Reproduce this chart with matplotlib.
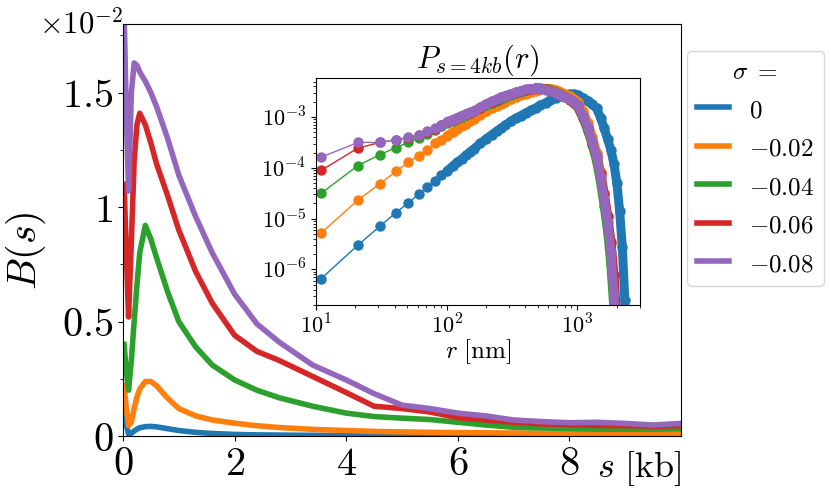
import numpy as np
import matplotlib
matplotlib.use('Agg')
import matplotlib.pyplot as plt
from matplotlib.ticker import MultipleLocator, NullFormatter

plt.rcParams['mathtext.fontset'] = 'cm'
plt.rcParams['font.family'] = 'serif'
plt.rcParams['font.serif'] = ['DejaVu Serif']

# main panel: B(s), values in units of 1e-2
s_kb = [0.02, 0.06, 0.1, 0.15, 0.2, 0.25, 0.3, 0.4, 0.5, 0.6, 0.8, 1.0, 1.3, 1.6, 2.0, 2.4,
        2.8, 3.4, 4.0, 4.5, 5.0, 5.5, 6.0, 6.5, 7.0, 7.5, 8.0, 8.5, 9.0, 9.5, 10.0]
B_0 = [0.12, 0.05, 0.008, 0.012, 0.022, 0.03, 0.036, 0.041, 0.042, 0.040, 0.032, 0.024, 0.016, 0.011,
       0.007, 0.005, 0.004, 0.003, 0.002, 0.002, 0.0015, 0.0015, 0.001, 0.001, 0.001, 0.001, 0.001,
       0.001, 0.001, 0.001, 0.001]
B_002 = [0.22, 0.12, 0.045, 0.06, 0.12, 0.17, 0.205, 0.238, 0.238, 0.22, 0.165, 0.12, 0.088, 0.07,
         0.056, 0.045, 0.037, 0.029, 0.024, 0.02, 0.018, 0.016, 0.015, 0.014, 0.013, 0.012, 0.012,
         0.011, 0.011, 0.01, 0.01]
B_004 = [0.40, 0.28, 0.20, 0.33, 0.50, 0.66, 0.80, 0.92, 0.86, 0.78, 0.63, 0.50, 0.39, 0.31, 0.245,
         0.20, 0.167, 0.13, 0.10, 0.085, 0.078, 0.072, 0.06, 0.048, 0.038, 0.035, 0.033, 0.03, 0.03,
         0.03, 0.032]
B_006 = [1.10, 0.80, 0.52, 0.85, 1.20, 1.36, 1.41, 1.36, 1.28, 1.19, 1.05, 0.90, 0.72, 0.58, 0.44,
         0.37, 0.33, 0.26, 0.19, 0.13, 0.12, 0.105, 0.08, 0.07, 0.06, 0.053, 0.05, 0.046, 0.045,
         0.043, 0.045]
B_008 = [1.85, 1.40, 1.07, 1.50, 1.63, 1.62, 1.59, 1.55, 1.50, 1.44, 1.30, 1.14, 0.96, 0.80, 0.62,
         0.49, 0.41, 0.31, 0.245, 0.185, 0.135, 0.12, 0.10, 0.088, 0.07, 0.063, 0.058, 0.06, 0.055,
         0.048, 0.055]

sigma_labels = ['$0$', '$-0.02$', '$-0.04$', '$-0.06$', '$-0.08$']

# inset: P(r) at s = 4 kb, log10 values
r_nm = [11, 21, 31, 41, 51, 61, 71, 81, 91, 101, 111, 121, 131, 141, 151, 161, 181, 201, 221, 241,
        261, 281, 311, 341, 371, 401, 441, 481, 521, 571, 621, 681, 741, 801, 871, 941, 1001, 1101,
        1201, 1301, 1401, 1501, 1601, 1701, 1801, 1901, 2001, 2101, 2201, 2301, 2401]
logP_0 = [-6.18, -5.52, -5.145, -4.88, -4.69, -4.52, -4.38, -4.26, -4.15, -4.06, -3.97, -3.89, -3.82,
          -3.75, -3.69, -3.63, -3.52, -3.43, -3.35, -3.28, -3.22, -3.16, -3.08, -3.02, -2.97, -2.92,
          -2.87, -2.82, -2.77, -2.72, -2.67, -2.62, -2.59, -2.56, -2.55, -2.55, -2.57, -2.62, -2.68,
          -2.75, -2.83, -3.01, -3.22, -3.44, -3.65, -3.92, -4.30, -4.85, -5.55, -6.60, -8.0]
logP_002 = [-5.28, -4.635, -4.31, -4.07, -3.89, -3.76, -3.64, -3.52, -3.445, -3.37, -3.30, -3.24,
            -3.18, -3.13, -3.08, -3.04, -2.96, -2.89, -2.83, -2.78, -2.74, -2.70, -2.65, -2.61,
            -2.57, -2.54, -2.51, -2.48, -2.455, -2.44, -2.44, -2.46, -2.50, -2.54, -2.59, -2.65,
            -2.71, -2.88, -3.12, -3.40, -3.70, -4.08, -4.50, -4.96, -5.50, -6.25, -7.2, -8.5, -9.0,
            -9.0, -9.0]
logP_004 = [-4.50, -3.955, -3.74, -3.60, -3.50, -3.41, -3.33, -3.25, -3.18, -3.12, -3.07, -3.03,
            -2.99, -2.95, -2.92, -2.89, -2.83, -2.77, -2.72, -2.68, -2.64, -2.61, -2.57, -2.53,
            -2.50, -2.475, -2.45, -2.43, -2.43, -2.44, -2.47, -2.51, -2.55, -2.60, -2.66, -2.73,
            -2.80, -3.02, -3.27, -3.56, -3.87, -4.28, -4.75, -5.25, -5.90, -6.80, -8.0, -9.0, -9.0,
            -9.0, -9.0]
logP_006 = [-4.05, -3.61, -3.50, -3.445, -3.41, -3.36, -3.29, -3.23, -3.16, -3.10, -3.06, -3.02,
            -2.98, -2.945, -2.915, -2.885, -2.825, -2.75, -2.70, -2.655, -2.615, -2.585, -2.55,
            -2.515, -2.485, -2.46, -2.44, -2.435, -2.44, -2.455, -2.485, -2.52, -2.56, -2.60,
            -2.655, -2.715, -2.78, -2.99, -3.22, -3.50, -3.79, -4.12, -4.52, -4.95, -5.45, -6.10,
            -7.0, -8.5, -9.0, -9.0, -9.0]
logP_008 = [-3.79, -3.50, -3.50, -3.445, -3.40, -3.35, -3.28, -3.22, -3.15, -3.09, -3.05, -3.01,
            -2.97, -2.94, -2.91, -2.88, -2.81, -2.74, -2.69, -2.65, -2.61, -2.58, -2.54, -2.51,
            -2.48, -2.455, -2.44, -2.435, -2.44, -2.46, -2.49, -2.52, -2.56, -2.60, -2.65, -2.71,
            -2.77, -2.97, -3.20, -3.48, -3.77, -4.18, -4.61, -5.06, -5.65, -6.50, -7.5, -9.0, -9.0,
            -9.0, -9.0]

fig = plt.figure(figsize=(8.31, 4.94), dpi=100)
ax = fig.add_axes([0.148, 0.1174, 0.6715, 0.834])

for vals, lab in zip([B_0, B_002, B_004, B_006, B_008], sigma_labels):
    ax.plot(s_kb, vals, lw=4, label=lab)

ax.set_xlim(0, 10)
ax.set_ylim(0, 1.8)
ax.set_xticks([0, 2, 4, 6, 8])
ax.set_xticklabels(['$0$', '$2$', '$4$', '$6$', '$8$'])
ax.set_yticks([0, 0.5, 1, 1.5])
ax.set_yticklabels(['$0$', '$0.5$', '$1$', '$1.5$'])
ax.yaxis.set_minor_locator(MultipleLocator(0.25))
ax.tick_params(labelsize=29)
ax.set_ylabel(r'$B(s)$', fontsize=29)
ax.yaxis.set_label_coords(-0.135, 0.45)
ax.text(1.0, -0.08, r'$s\ [\mathrm{kb}]$', transform=ax.transAxes, ha='right', va='center', fontsize=26)
ax.text(0.0, 0.978, r'$\times10^{-2}$', transform=ax.transAxes, ha='right', va='baseline', fontsize=22)

ax.legend(title=r'$\sigma\ =$', loc='upper left', bbox_to_anchor=(1.01, 0.935), fontsize=18,
          title_fontsize=18, handlelength=1.3, handleheight=1.0, labelspacing=0.55, borderaxespad=0)

# inset
axin = fig.add_axes([0.380, 0.3826, 0.390, 0.459])
for i, lp in enumerate([logP_0, logP_002, logP_004, logP_006, logP_008]):
    P = 10 ** np.array(lp)
    axin.plot(r_nm, P, '-o', color=f'C{i}', lw=1, ms=6.5)
    # dense samples at larger r merge into a thick band
    axin.plot(r_nm[9:], P[9:], '-', color=f'C{i}', lw=6.5,
              solid_capstyle='round', solid_joinstyle='round')
axin.set_xscale('log')
axin.set_yscale('log')
axin.set_xlim(10, 3000)
axin.set_ylim(2.0e-7, 5.8e-3)
axin.set_xticks([10, 100, 1000])
axin.set_xticklabels(['$10^{1}$', '$10^{2}$', '$10^{3}$'])
axin.set_yticks([1e-6, 1e-5, 1e-4, 1e-3])
axin.set_yticklabels(['$10^{-6}$', '$10^{-5}$', '$10^{-4}$', '$10^{-3}$'])
axin.xaxis.set_minor_formatter(NullFormatter())
axin.yaxis.set_minor_formatter(NullFormatter())
axin.tick_params(labelsize=16)
axin.set_title(r'$P_{s=4kb}(r)$', fontsize=22, pad=4)
axin.set_xlabel(r'$r\ [\mathrm{nm}]$', fontsize=18, labelpad=-1)

fig.savefig('out.png', dpi=100)
